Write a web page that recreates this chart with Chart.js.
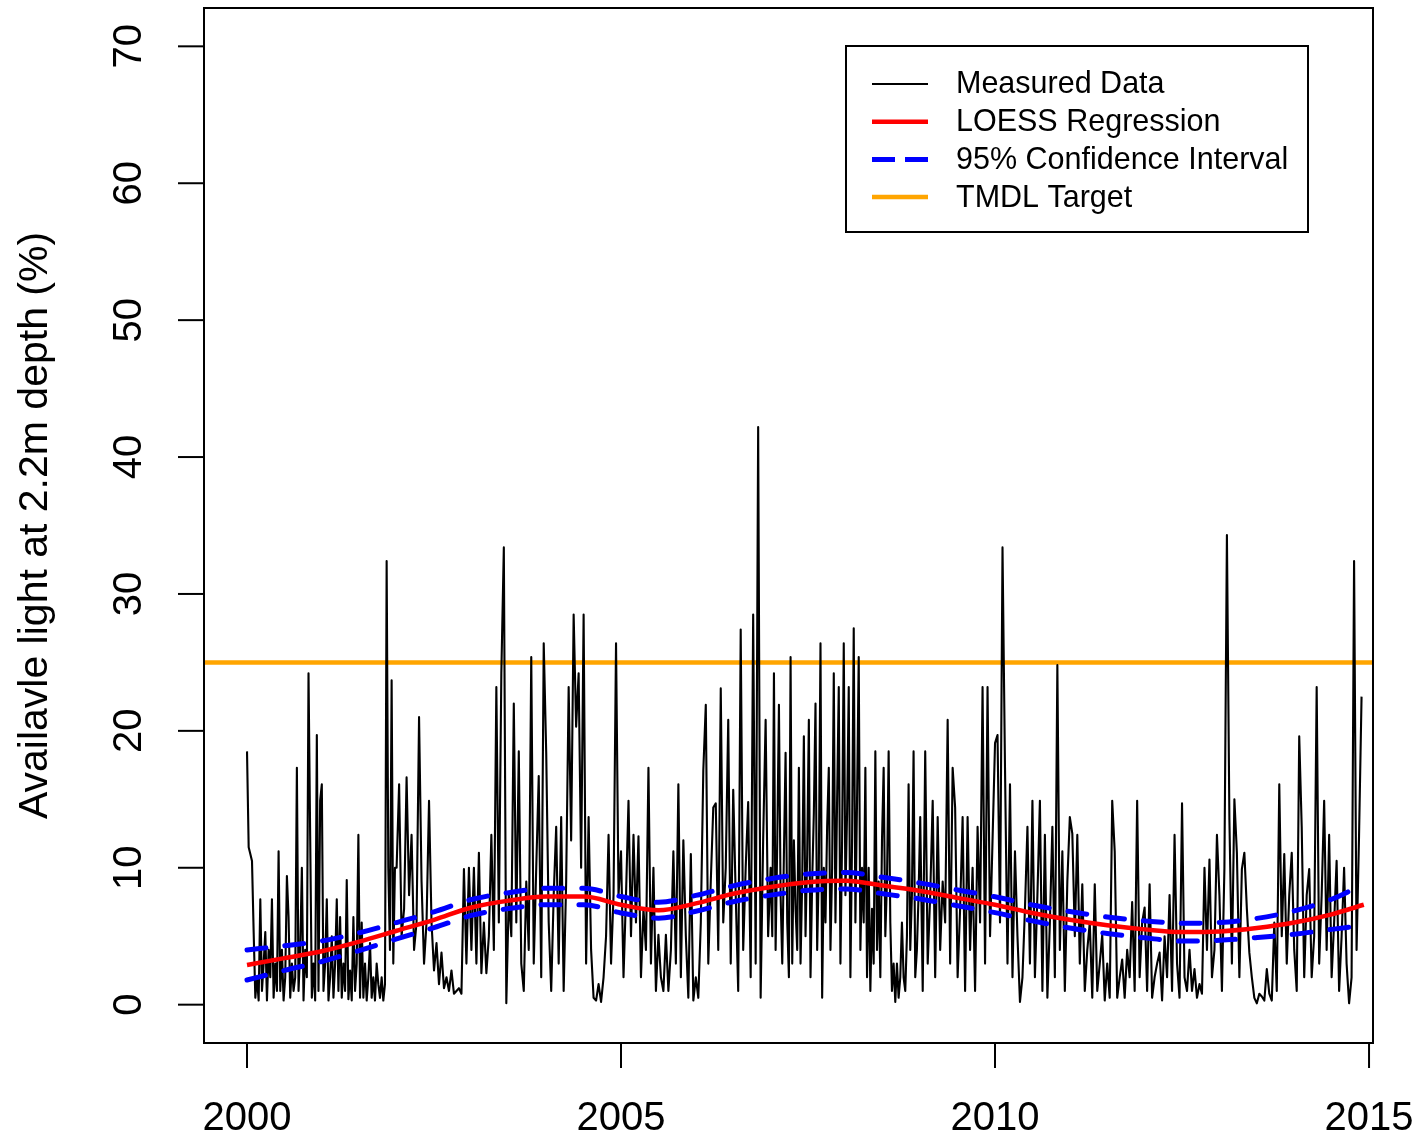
<!DOCTYPE html>
<html>
<head>
<meta charset="utf-8">
<script src="https://cdn.jsdelivr.net/npm/chart.js@4.4.1/dist/chart.umd.min.js"></script>
<style>
  html, body { margin: 0; padding: 0; background: #fff; }
  #chart { display: block; }
</style>
</head>
<body>
<canvas id="chart" width="1422" height="1146"></canvas>
<script>
// measured light at 2.2m, one array per year
const y2000 = [18.5, 11.5, 11, 10.5, 5.3, 0.5, 2, 0.3, 7.7, 1, 3, 5.3, 0.3, 4, 2, 7.7, 0.5, 3, 1, 11.2, 1, 4, 0.3, 2, 9.4, 6.4, 0.5, 3, 1, 2, 17.3, 1, 4, 10, 0.3, 4, 2, 24.2, 12.3, 0.5, 3, 0.3, 19.7, 1, 14.9];
const y2001 = [16.1, 1, 3, 7.7, 0.3, 2, 5, 0.5, 3, 7.7, 1, 6.4, 0.5, 3, 1, 9.1, 0.4, 2.5, 0.3, 6.4, 1, 3, 12.4, 0.5, 6, 0.5, 3, 0.3, 2, 4.5, 0.5, 2, 0.3, 3, 1.5, 0.5, 2, 0.3, 1.5, 32.4, 10, 4, 23.7, 3, 10];
const y2002 = [10, 16.1, 5, 7, 16.6, 8, 12.4, 4, 6, 21.0, 9, 3, 6, 14.9, 6, 2.5, 4.5, 1.5, 3.8, 1.2, 2, 1, 2.5, 0.8, 1, 1.2, 0.8, 9.9, 3, 10];
const y2003 = [4, 10, 3, 11.1, 2.3, 6, 2.3, 5, 12.4, 4, 23.2, 6, 24.2, 33.4, 0.1, 8, 5, 22, 6, 18.5, 3, 1, 9, 4, 25.4, 3, 10, 16.7, 2, 26.4];
const y2004 = [18.4, 6, 1, 8, 13, 3, 13.7, 1, 9, 23.2, 12, 28.5, 20.3, 24.2, 10, 28.5, 3, 13.7, 4, 0.5, 0.3, 1.5, 0.2, 2, 5, 12.4, 3, 8, 26.4, 8];
const y2005 = [11.2, 2, 8, 14.9, 5, 12.4, 6, 12.3, 2, 7, 4, 17.3, 3, 10, 1, 5.1, 2, 1, 5.1, 1, 4, 11.2, 3, 16.1, 2, 12, 5, 0.5, 11, 0.3];
const y2006 = [2, 0.5, 6, 17.1, 21.9, 3, 9, 14.4, 14.7, 4, 23.1, 6, 10, 20.8, 3, 15.7, 8, 1, 27.4, 4, 10, 14.8, 2, 28.5, 3, 42.2, 0.5, 12, 20.8, 5];
const y2007 = [10, 5, 24.2, 4, 12, 21.9, 8, 3, 11, 18.4, 6, 2, 25.4, 3, 12, 7, 4, 17.3, 3, 9, 19.6, 5, 11, 20.8, 2, 9, 14, 22, 4, 10, 26.4, 0.5, 10, 6, 13, 17.3, 4, 10, 24.2, 6, 15, 23.2, 3, 12, 26.4];
const y2008 = [8, 14, 23.2, 2, 12, 27.5, 6, 15, 25.4, 4, 10, 6, 17.3, 2, 10, 1, 7, 3, 18.5, 4, 9, 2, 12, 17.3, 5, 9, 18.5, 6, 1, 3, 0.2, 3, 0.5, 2, 6, 2, 1, 5, 16.1, 4, 8, 18.5, 2, 4, 8];
const y2009 = [13.7, 1, 18.5, 3, 8, 14.9, 2, 13.7, 4, 9, 6, 20.8, 3, 17.3, 14.4, 2, 7, 13.7, 1, 13.7, 4, 10, 1, 13, 6, 23.2, 3, 23.2, 5, 12];
const y2010 = [19.1, 19.7, 6, 33.4, 17.3, 3, 16.1, 2, 11.2, 5, 0.2, 2, 7, 13, 3, 14.9, 2, 8, 14.9, 1, 12.4, 0.5, 6, 13, 2, 24.8, 4, 11.2, 1, 9];
const y2011 = [13.7, 12.5, 5, 12.4, 3, 8.8, 1, 4, 6, 0.5, 8.8, 1, 3, 5.1, 0.3, 3, 0.5, 14.9, 11.2, 0.5, 2, 3.3, 0.5, 4, 2, 7.5, 1, 14.9, 2, 6];
const y2012 = [7.1, 1, 8.8, 0.5, 2, 3, 3.8, 0.3, 5, 2, 8, 1, 12.4, 3, 0.5, 14.7, 2, 1, 4, 1, 2.6, 0.5, 1.5, 0.8, 10, 4, 10.6, 2, 4, 12.4];
const y2013 = [8, 1, 10, 34.3, 13.5, 3, 15, 11.1, 2, 9.9, 11.1, 7, 3.8, 2, 0.5, 0.1, 0.8, 0.6, 0.3, 2.6, 0.8, 0.3, 6, 1, 16.1, 5, 11, 3, 8, 11.1];
const y2014 = [4, 1, 19.6, 13, 2, 8, 9.9, 2, 5, 23.2, 3, 8, 14.9, 4, 12.4, 2, 6, 10.5, 1, 5, 10, 3, 0.1, 2, 32.4, 4, 12.4, 22.5];

const yearly = [y2000, y2001, y2002, y2003, y2004, y2005, y2006, y2007, y2008, y2009, y2010, y2011, y2012, y2013, y2014];
const firstYear = 2000;
// sampling frequency used in each year (denser in the busy years)
const samplesPerYear = [45, 45, 30, 30, 30, 30, 30, 45, 45, 30, 30, 30, 30, 30, 30];

// loess fit and 95% band
const loessYears = [2000, 2000.5, 2001, 2001.5, 2002, 2002.5, 2003, 2003.5, 2004, 2004.5, 2005, 2005.5, 2006, 2006.5, 2007, 2007.5, 2008, 2008.5, 2009, 2009.5, 2010, 2010.5, 2011, 2011.5, 2012, 2012.5, 2013, 2013.5, 2014, 2014.5, 2014.93];
const loessFit = [2.9, 3.4, 3.9, 4.6, 5.4, 6.2, 7.1, 7.6, 7.9, 7.9, 7.3, 6.9, 7.4, 8.1, 8.6, 8.95, 9.05, 8.7, 8.3, 7.8, 7.3, 6.7, 6.2, 5.8, 5.5, 5.3, 5.35, 5.6, 6.0, 6.6, 7.3];
const ciUpper = [4.0, 4.3, 4.65, 5.25, 6.0, 6.78, 7.68, 8.18, 8.5, 8.5, 7.9, 7.48, 7.98, 8.68, 9.2, 9.55, 9.65, 9.3, 8.88, 8.38, 7.88, 7.28, 6.8, 6.4, 6.12, 5.95, 6.0, 6.3, 6.85, 7.7, 8.8];
const ciLower = [1.8, 2.5, 3.15, 3.95, 4.8, 5.62, 6.52, 7.02, 7.3, 7.3, 6.7, 6.32, 6.82, 7.52, 8.0, 8.35, 8.45, 8.1, 7.72, 7.22, 6.72, 6.12, 5.6, 5.2, 4.88, 4.65, 4.7, 4.9, 5.15, 5.5, 5.8];
const tmdlTarget = 25;

const xTicks = [2000, 2005, 2010, 2015];
const yTicks = [0, 10, 20, 30, 40, 50, 60, 70];
const xMin = 1999.425, xMax = 2015.053;
const yMin = -2.8, yMax = 72.8;

var measured = [];
yearly.forEach(function(vals, k) {
    vals.forEach(function(v, i) {
        measured.push({x: firstYear + k + i / samplesPerYear[k], y: v});
    });
});
function pairs(xs, ys) {
    return xs.map(function(x, i) { return {x: x, y: ys[i]}; });
}

const FONT = '"Liberation Sans", Arial, Helvetica, sans-serif';

const legendItems = [
    {text: 'Measured Data', color: '#000000', width: 2, dash: []},
    {text: 'LOESS Regression', color: '#ff0000', width: 4.5, dash: []},
    {text: '95% Confidence Interval', color: '#0000ff', width: 5, dash: [23, 10]},
    {text: 'TMDL Target', color: '#ffa500', width: 4.5, dash: []}
];

// R-like box, ticks, labels and legend
const rAxes = {
    id: 'rAxes',
    beforeDraw(chart) {
        const ctx = chart.ctx;
        ctx.save();
        ctx.fillStyle = '#fff';
        ctx.fillRect(0, 0, chart.width, chart.height);
        ctx.restore();
    },
    afterDraw(chart) {
        const ctx = chart.ctx, a = chart.chartArea;
        const xs = chart.scales.x, ys = chart.scales.y;
        ctx.save();
        ctx.strokeStyle = '#000';
        ctx.fillStyle = '#000';
        ctx.lineWidth = 2;
        ctx.setLineDash([]);
        ctx.strokeRect(a.left, a.top, a.right - a.left, a.bottom - a.top);

        ctx.font = '40px ' + FONT;
        ctx.textAlign = 'center';
        ctx.textBaseline = 'middle';
        xTicks.forEach(function(t) {
            const px = xs.getPixelForValue(t);
            ctx.beginPath();
            ctx.moveTo(px, a.bottom);
            ctx.lineTo(px, a.bottom + 25);
            ctx.stroke();
            ctx.fillText(String(t), px, a.bottom + 76);
        });
        yTicks.forEach(function(t) {
            const py = ys.getPixelForValue(t);
            ctx.beginPath();
            ctx.moveTo(a.left - 26, py);
            ctx.lineTo(a.left, py);
            ctx.stroke();
            ctx.save();
            ctx.translate(a.left - 74, py);
            ctx.rotate(-Math.PI / 2);
            ctx.fillText(String(t), 0, 0);
            ctx.restore();
        });
        ctx.font = '41px ' + FONT;
        ctx.save();
        ctx.translate(36, (a.top + a.bottom) / 2);
        ctx.rotate(-Math.PI / 2);
        ctx.fillText('Availavle light at 2.2m depth (%)', 0, 0);
        ctx.restore();

        // legend
        ctx.lineWidth = 2;
        ctx.strokeRect(846, 46, 462, 186);
        ctx.font = '30.5px ' + FONT;
        ctx.textAlign = 'left';
        legendItems.forEach(function(it, i) {
            const y = 84 + i * 37.7;
            ctx.strokeStyle = it.color;
            ctx.lineWidth = it.width;
            ctx.setLineDash(it.dash);
            ctx.lineCap = 'butt';
            ctx.beginPath();
            ctx.moveTo(872, y);
            ctx.lineTo(928, y);
            ctx.stroke();
            ctx.setLineDash([]);
            ctx.fillStyle = '#000';
            ctx.fillText(it.text, 956, y + 1);
        });
        ctx.restore();
    }
};

new Chart(document.getElementById('chart'), {
    type: 'line',
    data: {
        datasets: [
            {
                label: '95% Confidence Interval',
                data: pairs(loessYears, ciUpper),
                borderColor: '#0000ff',
                borderWidth: 5,
                borderDash: [19, 19],
                borderCapStyle: 'round',
                pointRadius: 0,
                cubicInterpolationMode: 'monotone',
                order: 0
            },
            {
                label: '95% Confidence Interval (lower)',
                data: pairs(loessYears, ciLower),
                borderColor: '#0000ff',
                borderWidth: 5,
                borderDash: [19, 19],
                borderCapStyle: 'round',
                pointRadius: 0,
                cubicInterpolationMode: 'monotone',
                order: 1
            },
            {
                label: 'LOESS Regression',
                data: pairs(loessYears, loessFit),
                borderColor: '#ff0000',
                borderWidth: 4.5,
                pointRadius: 0,
                cubicInterpolationMode: 'monotone',
                order: 2
            },
            {
                label: 'Measured Data',
                data: measured,
                borderColor: '#000000',
                borderWidth: 2.1,
                borderJoinStyle: 'round',
                pointRadius: 0,
                tension: 0,
                order: 3
            },
            {
                label: 'TMDL Target',
                data: [{x: xMin, y: tmdlTarget}, {x: xMax, y: tmdlTarget}],
                borderColor: '#ffa500',
                borderWidth: 4.5,
                pointRadius: 0,
                order: 4
            }
        ]
    },
    options: {
        responsive: false,
        animation: false,
        events: [],
        layout: { padding: { left: 204, top: 8, right: 49, bottom: 103 } },
        scales: {
            x: { type: 'linear', min: xMin, max: xMax, display: false },
            y: { type: 'linear', min: yMin, max: yMax, display: false }
        },
        plugins: {
            legend: { display: false },
            tooltip: { enabled: false }
        }
    },
    plugins: [rAxes]
});
</script>
</body>
</html>
